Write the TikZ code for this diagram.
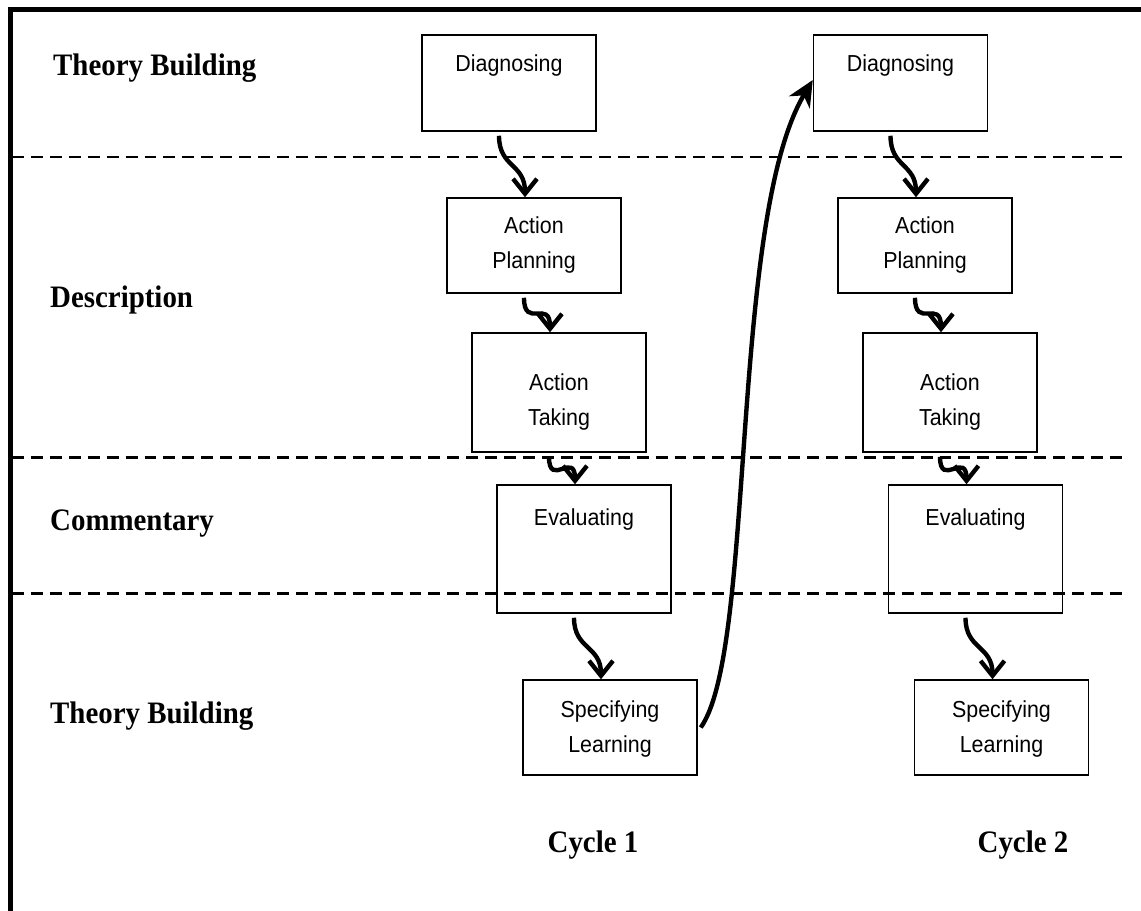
\documentclass[tikz,border=0pt]{standalone}
\usepackage{fontspec}
\setmainfont{Liberation Serif}
\newfontfamily\boxfont{Liberation Sans}
\usetikzlibrary{arrows.meta,calc}

% text set slightly taller than wide
\newcommand{\tallbox}[1]{\scalebox{1}[1.08]{\begin{tabular}{@{}c@{}}#1\end{tabular}}}

\tikzset{
  stage/.style={draw=black, line width=1.5pt, minimum width=174bp, inner sep=0pt},
  stagetext/.style={font=\boxfont\fontsize{21.5}{32.4}\selectfont, inner sep=0pt},
  rowlabel/.style={font=\bfseries\fontsize{29}{34}\selectfont, anchor=base west, inner sep=0pt},
  cyclelabel/.style={font=\bfseries\fontsize{29}{34}\selectfont, anchor=base, inner sep=0pt},
  divider/.style={line width=3pt, dash pattern=on 12pt off 7pt},
  stepflow/.style={line width=4.4pt, -{Straight Barb[length=15pt,width=24pt,line width=4.4pt]}},
  loopflow/.style={line width=4.4pt, -{Stealth[length=26pt,width=24pt,inset=8pt]}}
}

\newcommand{\stepcurve}[2]{%
  \draw[stepflow] ($(#1.south)+(-10,4)$) coordinate (s)
    .. controls ($(s)+(0,32)$) and ($(#2.north)+(-9,-34)$) .. ($(#2.north)+(-9,0)$);%
}

\begin{document}
\begin{tikzpicture}[x=1bp,y=-1bp]
  \useasboundingbox (0,0) rectangle (1141,911);
  \fill[white] (-20,-20) rectangle (1170,940);

  % outer frame: left and top edges
  \coordinate (fb) at (10.5,930);
  \coordinate (fc) at (10.5,9.5);
  \coordinate (fr) at (1160,9.5);
  \draw[line width=5pt] (fb) -- (fc) -- (fr);

  % horizontal dividers between the bands
  \coordinate (l1) at (12,157);  \coordinate (r1) at (1123,157);
  \coordinate (l2) at (12,457);  \coordinate (r2) at (1123,457);
  \coordinate (l3) at (12,593);  \coordinate (r3) at (1123,593);
  \draw[divider] (l1) -- (r1);
  \draw[divider] (l2) -- (r2);
  \draw[divider] (l3) -- (r3);

  % band labels
  \node[rowlabel] (tb1) at (53,75) {\tallbox{Theory Building}};
  \node[rowlabel] (desc) at (50,307) {\tallbox{Description}};
  \node[rowlabel] (comm) at (50,530) {\tallbox{Commentary}};
  \node[rowlabel] (tb2) at (50,723) {\tallbox{Theory Building}};

  % cycle 1 stages
  \node[stage, minimum height=96bp]  (dg1) at (509,83) {};
  \node[stage, minimum height=95bp]  (ap1) at (534,245.5) {};
  \node[stage, minimum height=119bp] (at1) at (559,392.5) {};
  \node[stage, minimum height=128bp] (ev1) at (584,549) {};
  \node[stage, minimum height=95bp]  (sl1) at (610,727.5) {};

  % cycle 2 stages
  \node[stage, minimum height=96bp]  (dg2) at (900.5,83) {};
  \node[stage, minimum height=95bp]  (ap2) at (925,245.5) {};
  \node[stage, minimum height=119bp] (at2) at (950,392.5) {};
  \node[stage, minimum height=128bp] (ev2) at (975.5,549) {};
  \node[stage, minimum height=95bp]  (sl2) at (1001.5,727.5) {};

  % stage captions
  \node[stagetext] (tdg1) at ($(dg1.north)+(0,30)$) {\tallbox{Diagnosing}};
  \node[stagetext] (tap1) at ($(ap1.north)+(0,46.5)$) {\tallbox{Action\\Planning}};
  \node[stagetext] (tat1) at ($(at1.north)+(0,69)$) {\tallbox{Action\\Taking}};
  \node[stagetext] (tev1) at ($(ev1.north)+(0,34)$) {\tallbox{Evaluating}};
  \node[stagetext] (tsl1) at ($(sl1.north)+(0,49)$) {\tallbox{Specifying\\Learning}};

  \node[stagetext] (tdg2) at ($(dg2.north)+(0,30)$) {\tallbox{Diagnosing}};
  \node[stagetext] (tap2) at ($(ap2.north)+(0,46.5)$) {\tallbox{Action\\Planning}};
  \node[stagetext] (tat2) at ($(at2.north)+(0,69)$) {\tallbox{Action\\Taking}};
  \node[stagetext] (tev2) at ($(ev2.north)+(0,34)$) {\tallbox{Evaluating}};
  \node[stagetext] (tsl2) at ($(sl2.north)+(0,49)$) {\tallbox{Specifying\\Learning}};

  % step-to-step arrows
  \stepcurve{dg1}{ap1}
  \stepcurve{ap1}{at1}
  \stepcurve{at1}{ev1}
  \stepcurve{ev1}{sl1}
  \stepcurve{dg2}{ap2}
  \stepcurve{ap2}{at2}
  \stepcurve{at2}{ev2}
  \stepcurve{ev2}{sl2}

  % loop from cycle 1 into cycle 2
  \draw[loopflow] ($(sl1.east)+(3,0)$)
    .. controls ($(sl1.east)+(58,-77.5)$) and ($(dg2.west)+(-83.5,137)$) .. ($(dg2.west)+(0,-3)$);

  % cycle labels
  \node[cyclelabel] (c1) at (593,852) {\tallbox{Cycle 1}};
  \node[cyclelabel] (c2) at (1023,852) {\tallbox{Cycle 2}};
\end{tikzpicture}
\end{document}
